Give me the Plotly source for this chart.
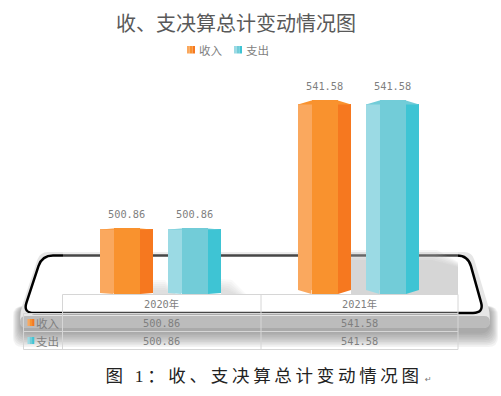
import plotly.graph_objects as go

# ---- data ----
categories = ["2020年", "2021年"]
series_names = ["收入", "支出"]
income_values = [500.86, 541.58]
expense_values = [500.86, 541.58]
title_text = "收、支决算总计变动情况图"
caption_text = "图 1：收、支决算总计变动情况图"

# ---- styles ----
W, H = 501, 396
ORANGE = ("#faa85e", "#f9922e", "#f6781f")
TEAL = ("#9bdae4", "#72ccd8", "#3ec4d4")
GRID = "#d6d6d6"
TXT = "#7f7f7f"
CJK = "Noto Sans CJK SC"
NUM = f"DejaVu Sans Mono, {CJK}"

# axis calibration (pixels of the canvas <-> data)
X0, PXX = 162.0, 198.0      # pixel of category 0, pixels per category
Y0, PXY = 294.0, 3.143      # pixel of axis base, pixels per unit
BASE = 480.0
xr = [(0 - X0) / PXX, (W - X0) / PXX]
yr = [BASE - (H - Y0) / PXY, BASE + Y0 / PXY]


def px(x):
    return x / W


def py(y):
    return 1 - y / H


def path(points, r=0):
    """closed path in paper coordinates, with rounded corners of r px"""
    n = len(points)
    out = []
    for i, (x, y) in enumerate(points):
        if r == 0:
            out.append(f"{'M' if i == 0 else 'L'}{px(x):.5f},{py(y):.5f}")
            continue
        ax, ay = points[i - 1]
        bx, by = points[(i + 1) % n]
        da = ((ax - x) ** 2 + (ay - y) ** 2) ** 0.5
        db = ((bx - x) ** 2 + (by - y) ** 2) ** 0.5
        p1 = (x + (ax - x) * r / da, y + (ay - y) * r / da)
        p2 = (x + (bx - x) * r / db, y + (by - y) * r / db)
        out.append(f"{'M' if i == 0 else 'L'}{px(p1[0]):.5f},{py(p1[1]):.5f}")
        out.append(f"Q{px(x):.5f},{py(y):.5f} {px(p2[0]):.5f},{py(p2[1]):.5f}")
    return " ".join(out) + " Z"


shapes = []


def poly(points, fill, r=0, line=None, lw=0, layer="below"):
    shapes.append(dict(type="path", xref="paper", yref="paper", path=path(points, r),
                       fillcolor=fill, line=dict(color=line or "rgba(0,0,0,0)", width=lw),
                       layer=layer))


def hline(x1, x2, y, color=GRID, lw=1, layer="above"):
    shapes.append(dict(type="line", xref="paper", yref="paper", x0=px(x1), x1=px(x2),
                       y0=py(y), y1=py(y), line=dict(color=color, width=lw), layer=layer))


def vline(x, y1, y2, color=GRID, lw=1, layer="above"):
    shapes.append(dict(type="line", xref="paper", yref="paper", x0=px(x), x1=px(x),
                       y0=py(y1), y1=py(y2), line=dict(color=color, width=lw), layer=layer))


# ---- backdrop: the phone ----
for k in range(9):                       # soft drop shadow
    poly([(13 + k * 0.9, 306), (498 - k * 1.0, 306), (498 - k * 1.0, 347 - k * 1.7), (13 + k * 0.9, 347 - k * 1.7)],
         "rgba(90,90,90,0.07)", r=10)
poly([(40, 252), (472, 252), (490, 312), (490, 328), (20, 328), (20, 312)], "#e6e6e6", r=8)
poly([(20, 316), (490, 316), (490, 328), (20, 328)], "#bcbcbc", r=6)
poly([(42, 255.5), (468, 255.5), (484, 313), (23, 313)], "#ffffff", r=11, line="#000000", lw=2.5)

# shadows thrown by the bars
for k in range(6):
    poly([(351, 250 + k * 2), (437 - k, 250 + k * 2), (458, 262 + k), (458, 294), (351, 294)],
         "rgba(150,150,150,0.115)")
for k in range(6):
    poly([(153, 294), (153, 280 + k * 2), (165, 280 + k * 2), (176, 294)], "rgba(120,120,120,0.06)")
    poly([(221, 294), (221, 279 + k * 2), (232 - k, 280 + k * 2), (246 - k * 2, 294)], "rgba(120,120,120,0.06)")
# translucent chart layer over the phone line
poly([(63, 250), (458, 250), (458, 313.5), (63, 313.5)], "rgba(255,255,255,0.28)")

# ---- bars ----
FACET = [0.0, 13.5, 40.0, 53.0]      # facet edges across one column, px
LEFT = {0: -62.0, 1: 6.0}            # column start relative to category, px
RISE = [1.0, 4.0]                    # cap height of the column per category, px
fig = go.Figure()
xs = list(range(len(categories)))
for s, (name, vals, cols) in enumerate(zip(series_names, [income_values, expense_values], [ORANGE, TEAL])):
    for f in range(3):
        off = (LEFT[s] + FACET[f]) / PXX
        wid = (FACET[f + 1] - FACET[f]) / PXX
        inset = [0 if f == 1 else r / PXY for r in RISE]
        fig.add_trace(go.Bar(
            x=xs, y=[v - i - BASE - i for v, i in zip(vals, inset)],
            base=[BASE + i for i in inset],
            offset=off, width=wid, marker=dict(color=cols[f], line=dict(width=0)),
            name=name, showlegend=False, hoverinfo="skip"))
    for i, v in zip(xs, vals):
        rise = RISE[i] / PXY
        xe = [i + (LEFT[s] + e) / PXX for e in FACET]
        # top cap
        fig.add_trace(go.Scatter(
            x=[xe[0], xe[1], xe[2], xe[3], xe[0]],
            y=[v - rise, v, v, v - rise, v - rise],
            mode="lines", fill="toself", fillcolor=cols[1], line=dict(width=0),
            showlegend=False, hoverinfo="skip"))
        # bottom tips of the outer facets
        fig.add_trace(go.Scatter(
            x=[xe[0], xe[1], xe[1], xe[0]], y=[BASE + rise, BASE, BASE + rise, BASE + rise],
            mode="lines", fill="toself", fillcolor=cols[0], line=dict(width=0),
            showlegend=False, hoverinfo="skip"))
        fig.add_trace(go.Scatter(
            x=[xe[2], xe[3], xe[2], xe[2]], y=[BASE, BASE + rise, BASE + rise, BASE],
            mode="lines", fill="toself", fillcolor=cols[2], line=dict(width=0),
            showlegend=False, hoverinfo="skip"))

ann = []


def text(x, y, s, size=11.5, color=TXT, family=CJK, anchor="center"):
    ann.append(dict(xref="paper", yref="paper", x=px(x), y=py(y), text=s, showarrow=False,
                    xanchor=anchor, yanchor="middle", font=dict(size=size, color=color, family=family)))


# value labels
for s, vals in enumerate([income_values, expense_values]):
    for i, v in zip(xs, vals):
        ann.append(dict(x=i + (LEFT[s] + FACET[3] / 2) / PXX, y=v, xref="x", yref="y", text=f"{v:.2f}",
                        showarrow=False, yanchor="middle", yshift=14.5,
                        font=dict(size=10.3, color=TXT, family=NUM)))

# title + legend
text(236, 22, title_text, size=20, color="#595959")
for (x, nm, cols) in zip([187, 234], series_names, [ORANGE, TEAL]):
    poly([(x, 46), (x + 2.5, 46), (x + 2.5, 53.5), (x, 53.5)], cols[0], layer="above")
    poly([(x + 2.5, 46), (x + 5.5, 46), (x + 5.5, 53.5), (x + 2.5, 53.5)], cols[1], layer="above")
    poly([(x + 5.5, 46), (x + 8, 46), (x + 8, 53.5), (x + 5.5, 53.5)], cols[2], layer="above")
    text(x + 10, 50, nm, anchor="left")

# data table
rows_y = [294.5, 313.5, 331.5, 349.5]
cols_x = [23.5, 62.5, 261, 458]
hline(cols_x[1], cols_x[3], rows_y[0])
for y in rows_y[1:]:
    hline(cols_x[0], cols_x[3], y)
vline(cols_x[0], rows_y[1], rows_y[3])
for x in cols_x[1:]:
    vline(x, rows_y[0], rows_y[3])
for i, c in enumerate(categories):
    cx = (cols_x[i + 1] + cols_x[i + 2]) / 2
    text(cx, (rows_y[0] + rows_y[1]) / 2, c, size=10.3, family=NUM)
    for r, vals in enumerate([income_values, expense_values]):
        text(cx, (rows_y[r + 1] + rows_y[r + 2]) / 2, f"{vals[i]:.2f}", size=10.3, family=NUM)
for r, (nm, cols) in enumerate(zip(series_names, [ORANGE, TEAL])):
    yc = (rows_y[r + 1] + rows_y[r + 2]) / 2
    x = 27.5
    poly([(x, yc - 3.5), (x + 2.3, yc - 3.5), (x + 2.3, yc + 3.5), (x, yc + 3.5)], cols[0], layer="above")
    poly([(x + 2.3, yc - 3.5), (x + 4.6, yc - 3.5), (x + 4.6, yc + 3.5), (x + 2.3, yc + 3.5)], cols[1], layer="above")
    poly([(x + 4.6, yc - 3.5), (x + 6.8, yc - 3.5), (x + 6.8, yc + 3.5), (x + 4.6, yc + 3.5)], cols[2], layer="above")
    text(34, yc, nm, anchor="left")

# caption
text(263.5, 376, caption_text, size=17.5, color="#222222", family=f"Liberation Serif, {CJK}")
text(428, 379, "↵", size=8, color="#777777", family="DejaVu Sans")

fig.update_layout(
    width=W, height=H, margin=dict(l=0, r=0, t=0, b=0), autosize=False,
    paper_bgcolor="#ffffff", plot_bgcolor="rgba(0,0,0,0)", barmode="overlay", bargap=0,
    xaxis=dict(visible=False, range=xr, fixedrange=True),
    yaxis=dict(visible=False, range=yr, fixedrange=True),
    shapes=shapes, annotations=ann, showlegend=False,
)

post = """
document.body.style.margin = '0';
document.querySelectorAll('.annotation-text').forEach(function (t) {
  if (t.textContent.indexOf('图 1') === 0) { t.style.letterSpacing = '3.7px'; }
});
"""
fig.write_html("out.html", post_script=post, config={"displayModeBar": False})
